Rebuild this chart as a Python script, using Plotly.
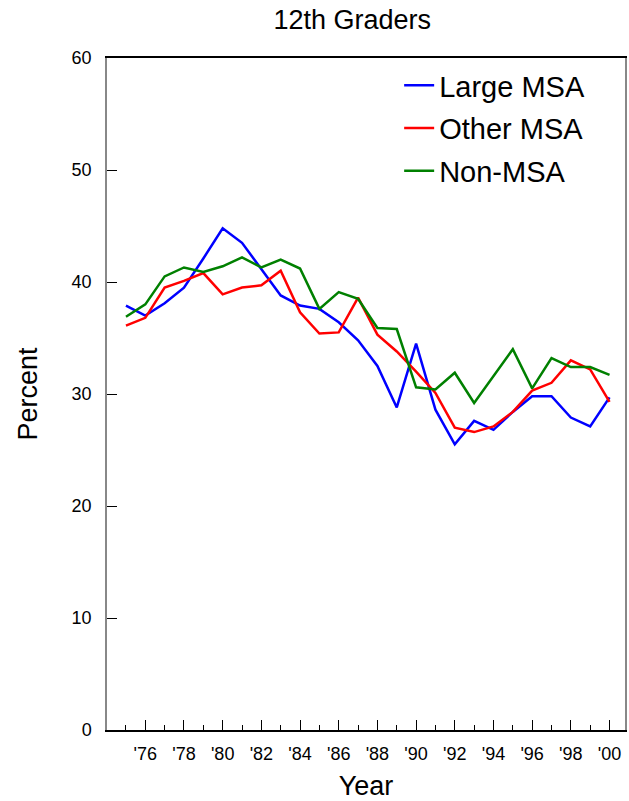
import plotly.graph_objects as go

# survey years 1975-2000
years = list(range(1975, 2001))

large_msa = [37.9, 37.0, 38.1, 39.5, 42.1, 44.8, 43.5, 41.2, 38.8, 37.9, 37.6, 36.4, 34.8,
             32.5, 28.8, 34.5, 28.6, 25.5, 27.6, 26.8, 28.4, 29.8, 29.8, 27.9, 27.1, 29.7]
other_msa = [36.1, 36.8, 39.5, 40.1, 40.8, 38.9, 39.5, 39.7, 41.0, 37.3, 35.4, 35.5, 38.6,
             35.3, 33.8, 32.0, 30.1, 27.0, 26.6, 27.1, 28.4, 30.3, 31.0, 33.0, 32.2, 29.3]
non_msa = [36.9, 38.0, 40.5, 41.3, 40.9, 41.4, 42.2, 41.3, 42.0, 41.2, 37.6, 39.1, 38.5,
           35.9, 35.8, 30.6, 30.4, 31.9, 29.2, 31.6, 34.0, 30.5, 33.2, 32.4, 32.4, 31.7]

tick_years = list(range(1976, 2001, 2))
tick_text = ["'76", "'78", "'80", "'82", "'84", "'86", "'88", "'90", "'92", "'94", "'96", "'98", "'00"]

font = "Liberation Sans, Arial, sans-serif"

fig = go.Figure()
for name, vals, col in [("Large MSA", large_msa, "#0000ff"),
                        ("Other MSA", other_msa, "#ff0000"),
                        ("Non-MSA", non_msa, "#008000")]:
    fig.add_trace(go.Scatter(x=years, y=vals, mode="lines", name=name, legendgroup=name,
                             line=dict(color=col, width=2.5)))

fig.update_layout(
    width=629, height=801,
    margin=dict(l=107, r=4, t=58, b=71),
    paper_bgcolor="white", plot_bgcolor="white",
    font=dict(family=font, color="black"),
    title=dict(text="12th Graders", x=0.56, xanchor="center", y=0.975, yanchor="middle",
               font=dict(size=27)),
    legend=dict(x=0.564, y=0.997, xanchor="left", yanchor="top", font=dict(size=29),
                tracegroupgap=2, bgcolor="rgba(0,0,0,0)"),
    showlegend=True,
)

fig.update_xaxes(
    range=[1974.02, 2000.8], showgrid=False, zeroline=False, automargin=False,
    showline=True, linecolor="black", linewidth=1.5, mirror=True,
    tickvals=tick_years, ticktext=tick_text, ticks="inside", ticklen=10, tickcolor="black",
    tickfont=dict(size=18), ticklabelstandoff=7,
    minor=dict(dtick=1, tick0=1975, ticks="inside", ticklen=5, tickcolor="black"),
    title=dict(text="Year", font=dict(size=27), standoff=19),
)
fig.update_yaxes(
    range=[0, 60], dtick=10, showgrid=False, zeroline=False, automargin=False,
    showline=True, linecolor="#888888", linewidth=1.5, mirror=True,
    ticks="inside", ticklen=10, tickcolor="black", tickfont=dict(size=18), ticklabelstandoff=10,
    title=dict(text="Percent", font=dict(size=27), standoff=26),
)

# drop the default page margin so the figure fills the window exactly
fig.write_html("out.html", config={"displayModeBar": False},
               post_script="document.body.style.margin='0';")
